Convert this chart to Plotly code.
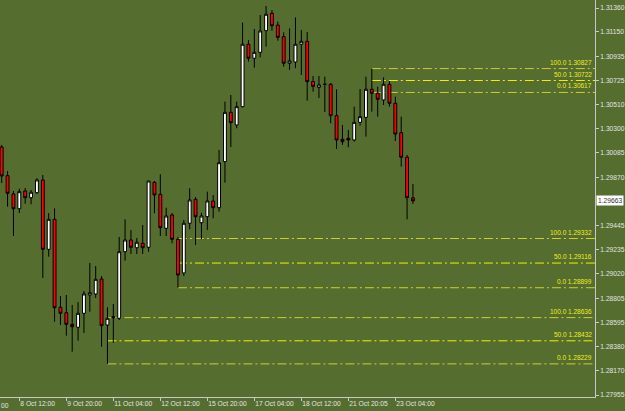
import plotly.graph_objects as go

# ---------------- data (H4 bars) ----------------
bar_index = list(range(71))

opens = [1.30137, 1.29885, 1.29724, 1.29594, 1.29750, 1.29691, 1.29735, 1.29847, 1.29237, 1.29501,
         1.28727, 1.28679, 1.28577, 1.28551, 1.28674, 1.28835, 1.28844, 1.28976, 1.28571, 1.28644,
         1.28630, 1.29216, 1.29319, 1.29251, 1.29290, 1.29255, 1.29827, 1.29721, 1.29422, 1.29539,
         1.29325, 1.29029, 1.29466, 1.29677, 1.29471, 1.29524, 1.29662, 1.29603, 1.30008, 1.30442,
         1.30331, 1.30492, 1.31041, 1.30918, 1.30970, 1.31160, 1.31313, 1.31210, 1.31108, 1.30874,
         1.30885, 1.31041, 1.31067, 1.30713, 1.30662, 1.30689, 1.30689, 1.30413, 1.30205, 1.30214,
         1.30199, 1.30354, 1.30398, 1.30645, 1.30610, 1.30551, 1.30689, 1.30522, 1.30263, 1.30047,
         1.29690]

highs = [1.30155, 1.29926, 1.29750, 1.29770, 1.29776, 1.29759, 1.29862, 1.29891, 1.29556, 1.29598,
         1.28826, 1.28835, 1.28747, 1.28773, 1.28870, 1.29117, 1.29090, 1.29002, 1.28727, 1.28756,
         1.29345, 1.29501, 1.29407, 1.29337, 1.29451, 1.29838, 1.29838, 1.29897, 1.29603, 1.29556,
         1.29345, 1.29495, 1.29774, 1.29697, 1.29559, 1.29744, 1.29715, 1.30111, 1.30536, 1.30595,
         1.30536, 1.31231, 1.31078, 1.31175, 1.31298, 1.31378, 1.31342, 1.31240, 1.31146, 1.31181,
         1.31278, 1.31166, 1.31149, 1.30762, 1.30762, 1.30756, 1.30700, 1.30645, 1.30331, 1.30287,
         1.30492, 1.30647, 1.30756, 1.30827, 1.30668, 1.30750, 1.30718, 1.30580, 1.30404, 1.30067,
         1.29812]

lows = [1.29820, 1.29612, 1.29354, 1.29556, 1.29638, 1.29633, 1.29724, 1.28985, 1.29172, 1.28600,
        1.28571, 1.28477, 1.28336, 1.28433, 1.28501, 1.28688, 1.28809, 1.28380, 1.28229, 1.28415,
        1.28615, 1.29137, 1.29196, 1.29196, 1.29196, 1.29216, 1.29554, 1.29354, 1.29354, 1.29290,
        1.28899, 1.29002, 1.29413, 1.29275, 1.29325, 1.29407, 1.29510, 1.29568, 1.29823, 1.30137,
        1.30302, 1.30485, 1.30888, 1.30835, 1.30926, 1.31020, 1.31160, 1.31072, 1.30844, 1.30815,
        1.30830, 1.30771, 1.30544, 1.30624, 1.30568, 1.30445, 1.30346, 1.30120, 1.30155, 1.30135,
        1.30184, 1.30325, 1.30228, 1.30448, 1.30404, 1.30507, 1.30492, 1.30190, 1.29964, 1.29501,
        1.29636]

closes = [1.29882, 1.29730, 1.29594, 1.29744, 1.29691, 1.29739, 1.29847, 1.29237, 1.29501, 1.28723,
          1.28674, 1.28577, 1.28556, 1.28674, 1.28844, 1.28855, 1.28973, 1.28565, 1.28630, 1.28635,
          1.29216, 1.29319, 1.29255, 1.29299, 1.29251, 1.29838, 1.29715, 1.29427, 1.29530, 1.29325,
          1.29011, 1.29466, 1.29671, 1.29524, 1.29530, 1.29662, 1.29603, 1.29999, 1.30442, 1.30351,
          1.30492, 1.31041, 1.30918, 1.30970, 1.31158, 1.31305, 1.31204, 1.31102, 1.30874, 1.30894,
          1.31041, 1.31067, 1.30712, 1.30671, 1.30683, 1.30688, 1.30413, 1.30199, 1.30184, 1.30199,
          1.30354, 1.30404, 1.30645, 1.30610, 1.30557, 1.30689, 1.30522, 1.30251, 1.30047, 1.29691,
          1.29663]

current_price = 1.29663

# time-axis ticks (bar index) and labels
x_tick_bars = [3, 11, 19, 27, 35, 43, 51, 59, 67]
x_tick_labels = ["8 Oct 12:00", "9 Oct 20:00", "11 Oct 04:00", "12 Oct 12:00", "15 Oct 20:00",
                 "17 Oct 04:00", "18 Oct 12:00", "21 Oct 20:05", "23 Oct 04:00"]
x_edge_label = "00"   # tail of the previous time label, cut by the left edge

# price-axis ticks
y_ticks = [1.31360, 1.31150, 1.30935, 1.30725, 1.30510, 1.30300, 1.30085, 1.29870,
           1.29445, 1.29235, 1.29020, 1.28805, 1.28595, 1.28380, 1.28170, 1.27955]

# Fibonacci retracements: names, price levels, anchor bar
fib_names = ["100.0", "50.0", "0.0"]
fib_top = [1.30827, 1.30722, 1.30617]
fib_mid = [1.29332, 1.29116, 1.28899]
fib_low = [1.28636, 1.28432, 1.28229]
fib_anchor_bars = [63, 30, 18]

# ---------------- styling ----------------
BG = "#556D2F"
AXIS = "#c8c8c8"
TXT = "#e4e4e4"
FONT = "Liberation Sans"
FS = 6.7
FIB_FS = 6.5
X_RANGE = [-0.289, 100.988]
Y_RANGE = [1.279376, 1.314304]
fib_line_colors = ["#cfcf30", "#f2f200", "#cfcf30"]
fib_text_color = "#eeee1e"

fig = go.Figure()
fig.add_trace(go.Candlestick(
    x=bar_index, open=opens, high=highs, low=lows, close=closes,
    increasing=dict(fillcolor="#ffffff", line=dict(color="#000000", width=1)),
    decreasing=dict(fillcolor="#ff0000", line=dict(color="#000000", width=1)),
    whiskerwidth=0, hoverinfo="skip", showlegend=False,
))

shapes = []
annotations = []
for levels, anchor in zip([fib_top, fib_mid, fib_low], fib_anchor_bars):
    for name, lvl, col in zip(fib_names, levels, fib_line_colors):
        shapes.append(dict(type="line", xref="x", yref="y", x0=anchor, x1=X_RANGE[1],
                           y0=lvl, y1=lvl, layer="below",
                           line=dict(color=col, width=1, dash="9px,3px,2px,3px")))
        annotations.append(dict(xref="paper", yref="y", x=1, y=lvl, xanchor="right",
                                yanchor="bottom", xshift=-1, yshift=1,
                                text=f"{name} {lvl:.5f}", showarrow=False,
                                font=dict(family=FONT, size=FIB_FS, color=fib_text_color)))

annotations.append(dict(xref="paper", yref="paper", x=0, y=0, yanchor="top", xanchor="left",
                        yshift=-3, xshift=-1, text=x_edge_label, showarrow=False,
                        font=dict(family=FONT, size=FS, color=TXT)))

# current price marker on the price scale
annotations.append(dict(xref="paper", yref="y", x=1, y=current_price, xanchor="left",
                        yanchor="middle", xshift=1, text=f"{current_price:.5f}",
                        showarrow=False, bgcolor="#ffffff", borderpad=1,
                        font=dict(family=FONT, size=FS, color="#303030")))

fig.update_layout(
    width=625, height=411,
    margin=dict(l=0, r=30, t=0, b=14, autoexpand=False),
    paper_bgcolor=BG, plot_bgcolor=BG,
    showlegend=False,
    shapes=shapes, annotations=annotations,
    xaxis=dict(range=X_RANGE, rangeslider=dict(visible=False), showgrid=False,
               zeroline=False, showline=True, linecolor=AXIS, linewidth=1,
               ticks="outside", ticklen=3, tickcolor=AXIS, tickangle=0, automargin=False,
               tickvals=x_tick_bars, ticktext=x_tick_labels,
               ticklabelposition="outside right",
               tickfont=dict(family=FONT, size=FS, color=TXT)),
    yaxis=dict(range=Y_RANGE, side="right", showgrid=False, zeroline=False,
               showline=True, linecolor=AXIS, linewidth=1, automargin=False,
               ticks="outside", ticklen=3, tickcolor=AXIS, ticklabelstandoff=0,
               tickvals=y_ticks, ticktext=[f"{v:.5f}" for v in y_ticks],
               tickfont=dict(family=FONT, size=FS, color=TXT)),
)

fig.write_html("out.html")
